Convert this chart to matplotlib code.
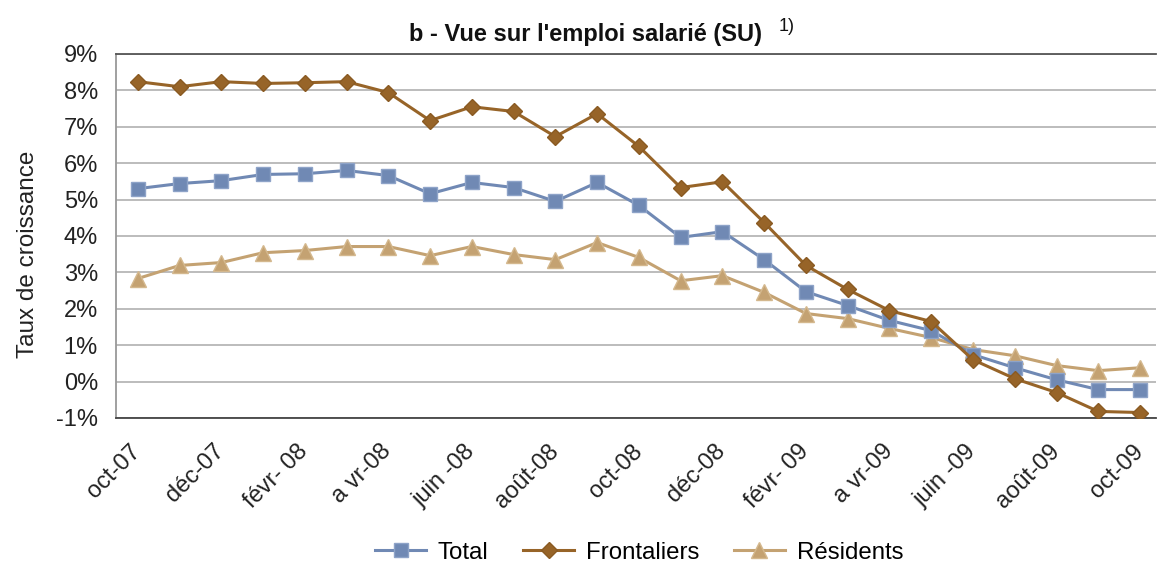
import numpy as np
import matplotlib.pyplot as plt
import matplotlib.transforms as mtransforms

plt.rcParams['font.family'] = ['Liberation Sans', 'DejaVu Sans']

months = ['oct-07', 'nov-07', 'déc-07', 'janv-08', 'févr-08', 'mars-08', 'avr-08',
          'mai-08', 'juin-08', 'juil-08', 'août-08', 'sept-08', 'oct-08', 'nov-08',
          'déc-08', 'janv-09', 'févr-09', 'mars-09', 'avr-09', 'mai-09', 'juin-09',
          'juil-09', 'août-09', 'sept-09', 'oct-09']
tick_labels = ['oct-07', 'déc-07', 'févr- 08', 'a vr-08', 'juin -08', 'août-08', 'oct-08',
               'déc-08', 'févr- 09', 'a vr-09', 'juin -09', 'août-09', 'oct-09']

total = [5.30, 5.44, 5.52, 5.69, 5.71, 5.80, 5.66, 5.16, 5.47, 5.33, 4.95, 5.47, 4.84,
         3.96, 4.12, 3.35, 2.47, 2.09, 1.68, 1.40, 0.74, 0.38, 0.05, -0.22, -0.22]
frontaliers = [8.24, 8.10, 8.24, 8.19, 8.21, 8.24, 7.94, 7.17, 7.55, 7.42, 6.73, 7.36, 6.46,
               5.33, 5.49, 4.37, 3.19, 2.53, 1.95, 1.65, 0.60, 0.08, -0.30, -0.82, -0.85]
residents = [2.83, 3.19, 3.27, 3.54, 3.60, 3.71, 3.71, 3.46, 3.71, 3.49, 3.35, 3.82, 3.41,
             2.77, 2.91, 2.45, 1.87, 1.73, 1.46, 1.21, 0.88, 0.71, 0.44, 0.30, 0.38]

x = np.arange(len(months))

fig = plt.figure(figsize=(11.58, 5.70), dpi=100)
ax = fig.add_axes([0.1002, 0.2667, 0.898, 0.6386])

ax.plot(x, total, color='#7089b4', lw=2.2, marker='s', ms=10,
        mec='#8ea3c8', mew=1, label='Total', zorder=3)
ax.plot(x, frontaliers, color='#976428', lw=2.2, marker='D', ms=8.5,
        mec='#8a5a22', mew=1, label='Frontaliers', zorder=4)
ax.plot(x, residents, color='#c4a272', lw=2.2, marker='^', ms=11,
        mec='#d4b88e', mew=1, label='Résidents', zorder=2)

ax.set_ylim(-1, 9)
ax.set_yticks(range(-1, 10))
ax.set_yticklabels([f'{v}%' for v in range(-1, 10)], fontsize=17)
ax.set_xlim(-0.52, 24.38)
ax.set_xticks(x[::2])
ax.set_xticklabels(tick_labels, rotation=45, ha='right', rotation_mode='anchor',
                   fontsize=17)
ax.tick_params(axis='both', length=0, colors='#222222')
ax.tick_params(axis='x', pad=16)
ax.tick_params(axis='y', pad=13)
shift = mtransforms.ScaledTranslation(-0.08, 0, fig.dpi_scale_trans)
for lab in ax.get_xticklabels():
    lab.set_transform(lab.get_transform() + shift)

ax.grid(axis='y', color='#b0b0b0', lw=1.2)
ax.set_axisbelow(True)
ax.spines['right'].set_visible(False)
ax.spines['top'].set_color('#555555')
ax.spines['left'].set_color('#999999')
ax.spines['bottom'].set_color('#444444')
for s in ax.spines.values():
    s.set_linewidth(1.3)

ax.set_ylabel('Taux de croissance', fontsize=17.5, color='#222222')
ax.yaxis.set_label_coords(-0.074, 0.45)

fig.text(0.506, 0.94, "b - Vue sur l'emploi salarié (SU)", ha='center', va='center',
         fontsize=17, fontweight='bold', color='#111111')
fig.text(0.672, 0.953, '1)', ha='left', va='center', fontsize=13, color='#111111')

fig.legend(loc='center', bbox_to_anchor=(0.552, 0.03), ncol=3, frameon=False,
           fontsize=17.3, handlelength=2.1, columnspacing=1.45, handletextpad=0.5)

fig.savefig('out.png', dpi=100)
